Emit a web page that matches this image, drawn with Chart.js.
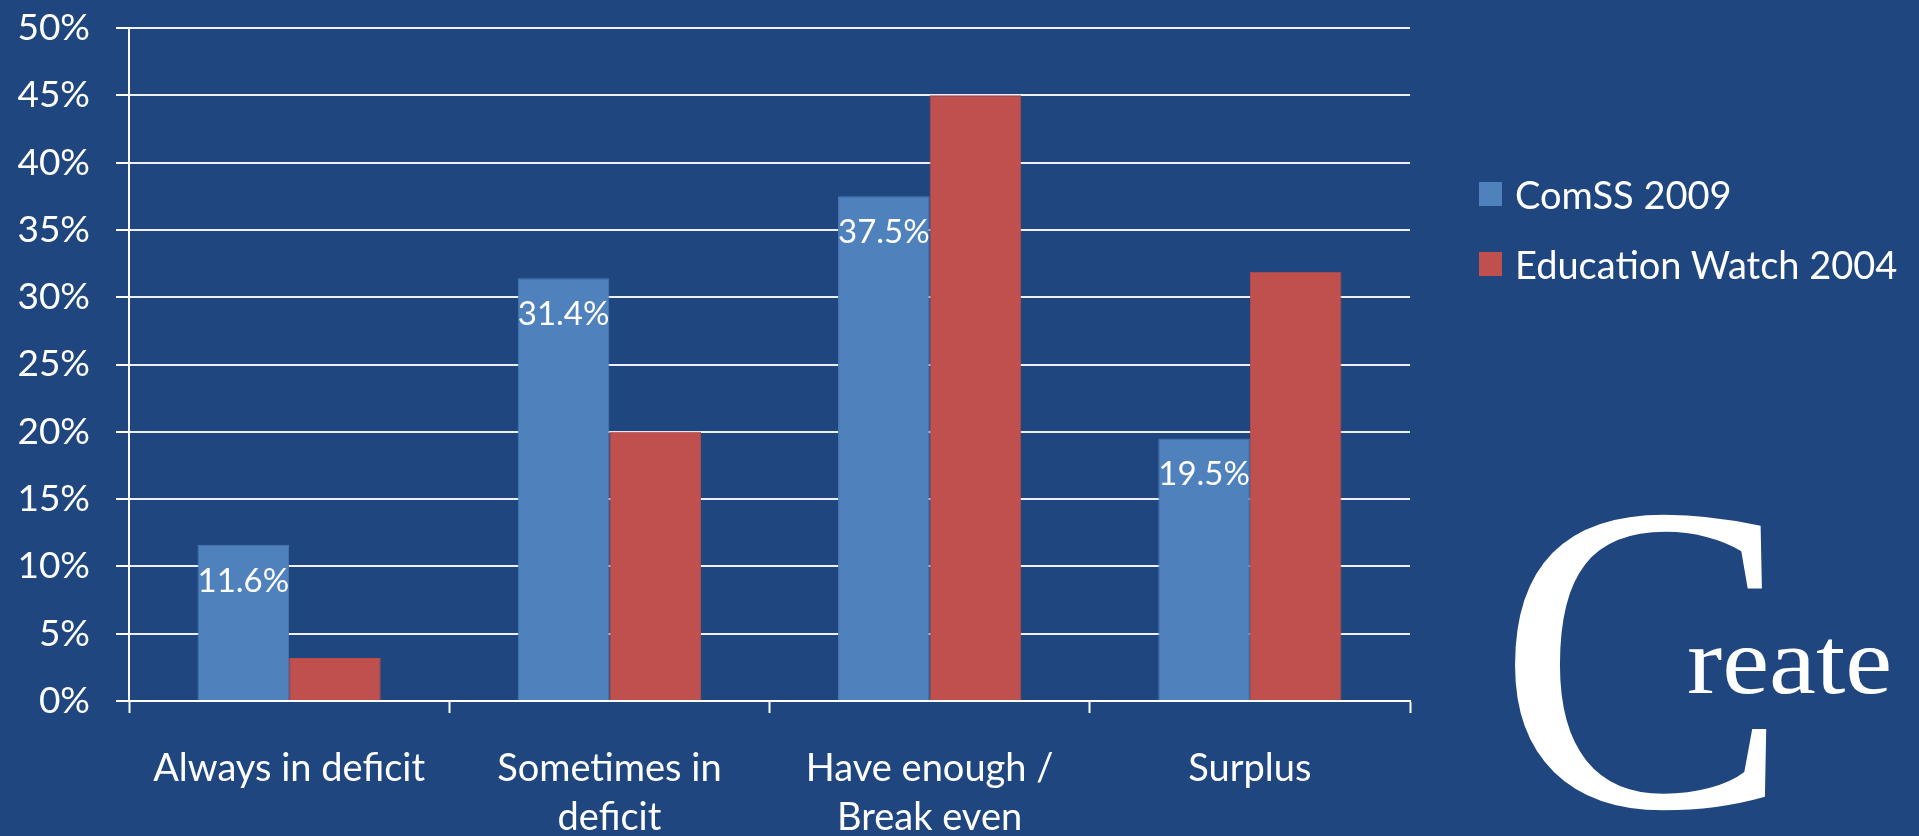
<!DOCTYPE html>
<html>
<head>
<meta charset="utf-8">
<title>ComSS 2009 vs Education Watch 2004</title>
<script src="https://cdn.jsdelivr.net/npm/chart.js@4"></script>
<style>
    html, body { margin: 0; padding: 0; background: #1F467E; overflow: hidden; }
    #wrap { position: relative; width: 1919px; height: 836px; }
    #legend { position: absolute; left: 1479px; top: 159px; font-family: Lato, sans-serif; font-size: 38px; color: #fff; }
    #legend .item { display: flex; align-items: center; height: 70px; white-space: nowrap; }
    #legend .sw { width: 23px; height: 24px; margin-right: 13px; flex: none; }
</style>
</head>
<body>
<div id="wrap">
    <canvas id="chart" width="1919" height="836"></canvas>
    <div id="legend"></div>
</div>
<script>
// --- data ---
const categories = [['Always in deficit'], ['Sometimes in', 'deficit'], ['Have enough /', 'Break even'], ['Surplus']];
const comss2009 = [11.6, 31.4, 37.5, 19.5];
const eduWatch2004 = [3.2, 20.0, 45.0, 31.9];
const seriesNames = ['ComSS 2009', 'Education Watch 2004'];
const yMin = 0, yMax = 50, yStep = 5;

const COLORS = {
    bg: '#1F467E',
    comss: '#4F81BD',
    edu: '#C0504D',
    white: '#FFFFFF',
};
const FONT = 'Lato, "Open Sans", sans-serif';

// labels inside the top of the blue bars
const barLabels = {
    id: 'barLabels',
    afterDatasetsDraw(chart) {
        const ctx = chart.ctx;
        const meta = chart.getDatasetMeta(0);
        ctx.save();
        ctx.font = '33px ' + FONT;
        ctx.fillStyle = COLORS.white;
        ctx.textAlign = 'center';
        ctx.textBaseline = 'middle';
        meta.data.forEach((bar, i) => {
            const v = chart.data.datasets[0].data[i];
            ctx.fillText(v.toFixed(1) + '%', bar.x, bar.y + 36);
        });
        ctx.restore();
    }
};

// "Create" logo in the lower right corner
const logo = {
    id: 'logo',
    afterDraw(chart) {
        const ctx = chart.ctx;
        ctx.save();
        ctx.fillStyle = COLORS.white;
        ctx.textBaseline = 'alphabetic';
        ctx.textAlign = 'left';
        ctx.font = '440px "Liberation Serif", serif';
        ctx.fillText('C', 1497, 806);
        ctx.translate(1687, 693);
        ctx.scale(1.1, 1);
        ctx.font = '96px "Liberation Serif", serif';
        ctx.fillText('reate', 0, 0);
        ctx.restore();
    }
};

const chart = new Chart(document.getElementById('chart'), {
    type: 'bar',
    data: {
        labels: categories,
        datasets: [
            {
                label: seriesNames[0],
                data: comss2009,
                backgroundColor: COLORS.comss,
                borderColor: '#4A7AB5',
                borderWidth: 1,
                categoryPercentage: 0.572,
                barPercentage: 1.0,
            },
            {
                label: seriesNames[1],
                data: eduWatch2004,
                backgroundColor: COLORS.edu,
                borderColor: '#B84B48',
                borderWidth: 1,
                categoryPercentage: 0.572,
                barPercentage: 1.0,
            },
        ]
    },
    options: {
        responsive: false,
        animation: false,
        layout: { padding: { top: 28, right: 509, bottom: 0, left: 0 } },
        plugins: {
            legend: { display: false },
            tooltip: { enabled: false },
        },
        scales: {
            x: {
                afterFit: (s) => { s.height = 135; },
                grid: {
                    drawOnChartArea: false,
                    drawTicks: true,
                    tickLength: 12,
                    tickColor: COLORS.white,
                    tickWidth: 2,
                },
                border: { display: true, color: COLORS.white, width: 2 },
                ticks: {
                    color: COLORS.white,
                    font: { family: FONT, size: 38, lineHeight: 1.3 },
                    padding: 31,
                    maxRotation: 0,
                    autoSkip: false,
                }
            },
            y: {
                min: yMin, max: yMax,
                // fixed width; the label padding should not push the plot down
                afterFit: (s) => { s.width = 129; s.paddingTop = 0; s.paddingBottom = 0; },
                grid: {
                    color: 'rgba(255,255,255,0.92)',
                    lineWidth: 2,
                    tickLength: 13,
                    tickColor: COLORS.white,
                },
                border: { display: true, color: COLORS.white, width: 2 },
                ticks: {
                    stepSize: yStep,
                    color: COLORS.white,
                    font: { family: FONT, size: 37 },
                    padding: 26,
                    callback: (v) => v + '%',
                }
            }
        }
    },
    plugins: [barLabels, logo]
});

// legend built from the datasets
const legendEl = document.getElementById('legend');
chart.data.datasets.forEach((ds) => {
    const row = document.createElement('div');
    row.className = 'item';
    const sw = document.createElement('span');
    sw.className = 'sw';
    sw.style.background = ds.backgroundColor;
    const txt = document.createElement('span');
    txt.textContent = ds.label;
    row.appendChild(sw);
    row.appendChild(txt);
    legendEl.appendChild(row);
});
</script>
</body>
</html>
